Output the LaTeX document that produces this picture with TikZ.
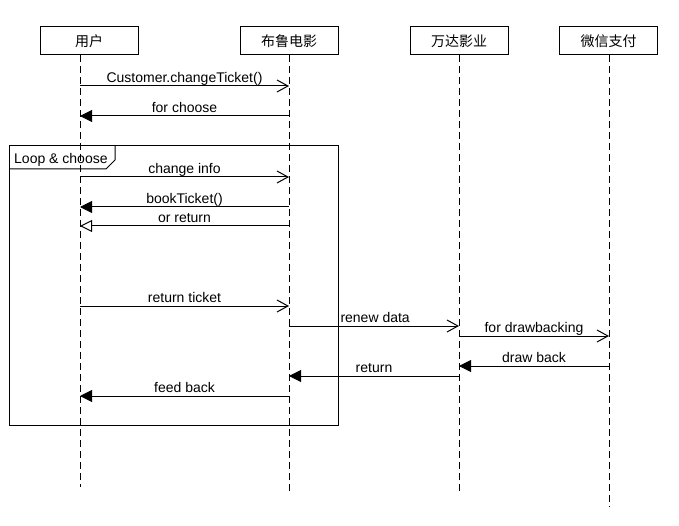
\documentclass[tikz,border=0pt]{standalone}
\usepackage{fontspec}
\setmainfont{Liberation Sans}
\newfontfamily\cjk{Noto Sans CJK SC}
\usetikzlibrary{arrows.meta}
\begin{document}
\begin{tikzpicture}[x=1pt,y=-1pt,
  every node/.style={font=\fontsize{14}{16}\selectfont, inner sep=0pt},
  actor/.style={draw, line width=1pt, minimum width=98pt, minimum height=28pt, font=\cjk\fontsize{14}{16}\selectfont},
  life/.style={line width=1pt, dash pattern=on 7pt off 4pt},
  msg/.style={line width=1pt},
  syncmsg/.style={msg, -{Straight Barb[length=11pt,width=12pt,line width=1pt]}},
  callmsg/.style={msg, -{Triangle[length=12pt,width=12pt]}},
  retmsg/.style={msg, -{Triangle[open,length=12pt,width=12pt,line width=1pt]}},
  lbl/.style={anchor=base, yshift=3.5pt}
]
\useasboundingbox (0,0) rectangle (679,526);

% actors
\node[actor] (A) at (89,41) {用户};
\node[actor] (B) at (289,41) {布鲁电影};
\node[actor] (C) at (459,41) {万达影业};
\node[actor] (D) at (608.5,41) {微信支付};

% lifelines
\coordinate (At) at (80,55);   \coordinate (Ab) at (80,487);
\coordinate (Bt) at (289,55);  \coordinate (Bb) at (289,493);
\coordinate (Ct) at (459,55);  \coordinate (Cb) at (459,493);
\coordinate (Dt) at (609,55);  \coordinate (Db) at (609,507);
\draw[life] (At) -- (Ab);
\draw[life] (Bt) -- (Bb);
\draw[life] (Ct) -- (Cb);
\draw[life] (Dt) -- (Db);

% loop frame
\draw[line width=1pt] (9,146) rectangle (338,425);
\draw[line width=1pt] (9,169) -- (106,169) -- (115,160) -- (115,146);
\node[anchor=base west] (loop) at (14,164) {Loop \& choose};

% messages
\coordinate (a1) at (80,86);  \coordinate (b1) at (289,86);
\draw[syncmsg] (a1) -- (b1) node[lbl, midway] {Customer.changeTicket()};

\coordinate (a2) at (80,116);  \coordinate (b2) at (289,116);
\draw[callmsg] (b2) -- (a2) node[lbl, midway] {for choose};

\coordinate (a3) at (80,177);  \coordinate (b3) at (289,177);
\draw[syncmsg] (a3) -- (b3) node[lbl, midway] {change info};

\coordinate (a4) at (80,207);  \coordinate (b4) at (289,207);
\draw[callmsg] (b4) -- (a4) node[lbl, midway] {bookTicket()};

\coordinate (a5) at (80,226);  \coordinate (b5) at (289,226);
\draw[retmsg] (b5) -- (a5) node[lbl, midway] {or return};

\coordinate (a6) at (80,306);  \coordinate (b6) at (289,306);
\draw[syncmsg] (a6) -- (b6) node[lbl, midway] {return ticket};

\coordinate (b7) at (289,326);  \coordinate (c7) at (459,326);
\draw[syncmsg] (b7) -- (c7) node[lbl, pos=0.3, anchor=base west] {renew data};

\coordinate (c8) at (459,336);  \coordinate (d8) at (609,336);
\draw[syncmsg] (c8) -- (d8) node[lbl, midway] {for drawbacking};

\coordinate (c9) at (459,366);  \coordinate (d9) at (609,366);
\draw[callmsg] (d9) -- (c9) node[lbl, midway] {draw back};

\coordinate (b10) at (289,376);  \coordinate (c10) at (459,376);
\draw[callmsg] (c10) -- (b10) node[lbl, midway] {return};

\coordinate (a11) at (80,396);  \coordinate (b11) at (289,396);
\draw[callmsg] (b11) -- (a11) node[lbl, midway] {feed back};
\end{tikzpicture}
\end{document}
